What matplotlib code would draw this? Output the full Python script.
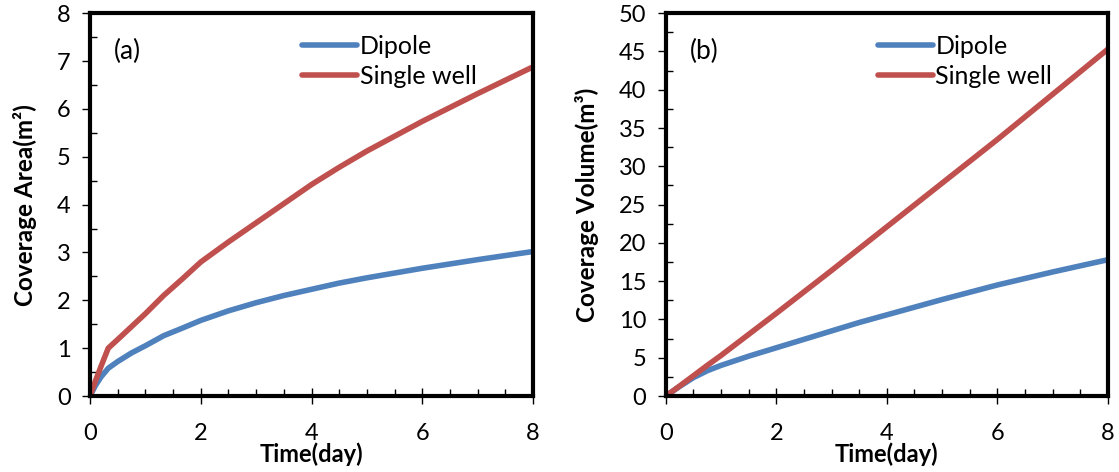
import matplotlib.pyplot as plt
from matplotlib.ticker import MultipleLocator

plt.rcParams['font.family'] = ['Lato', 'DejaVu Sans']

# panel (a): coverage area
t_area = [0, 0.1, 0.2, 0.33, 0.5, 0.75, 1, 1.33, 1.67, 2, 2.5, 3, 3.5, 4, 4.5, 5, 6, 7, 8]
dipole_area = [0, 0.22, 0.4, 0.58, 0.72, 0.9, 1.05, 1.26, 1.42, 1.58, 1.78, 1.95, 2.1, 2.23,
               2.36, 2.47, 2.67, 2.85, 3.02]
single_area = [0, 0.32, 0.62, 1.0, 1.18, 1.45, 1.72, 2.1, 2.45, 2.8, 3.22, 3.62, 4.02, 4.42,
               4.78, 5.12, 5.74, 6.32, 6.88]

# panel (b): coverage volume
t_vol = [0, 0.25, 0.5, 0.75, 1, 1.5, 2, 2.5, 3, 3.5, 4, 5, 6, 7, 8]
dipole_vol = [0, 1.25, 2.4, 3.3, 4.0, 5.2, 6.3, 7.4, 8.5, 9.6, 10.6, 12.6, 14.5, 16.2, 17.8]
single_vol = [0, 1.3, 2.65, 4.0, 5.3, 8.05, 10.8, 13.6, 16.4, 19.25, 22.1, 27.8, 33.5, 39.4, 45.3]

blue = '#4F81BD'
red = '#C0504D'

fig = plt.figure(figsize=(11.19, 4.72), dpi=100)
ax1 = fig.add_axes([0.0804, 0.161, 0.396, 0.811])
ax2 = fig.add_axes([0.595, 0.161, 0.395, 0.811])


def style(ax, ymax, ymajor, ylabel, tag):
    ax.set_xlim(0, 8)
    ax.set_ylim(0, ymax)
    ax.xaxis.set_major_locator(MultipleLocator(2))
    ax.xaxis.set_minor_locator(MultipleLocator(0.5))
    ax.yaxis.set_major_locator(MultipleLocator(ymajor))
    ax.yaxis.set_minor_locator(MultipleLocator(ymajor / 2))
    for s in ax.spines.values():
        s.set_linewidth(3)
    ax.tick_params(axis='y', which='major', direction='out', length=6, width=1, labelsize=17, pad=8)
    ax.tick_params(axis='y', which='minor', direction='in', length=5, width=1)
    ax.tick_params(axis='x', which='major', direction='inout', length=11, width=1, labelsize=17, pad=14)
    ax.tick_params(axis='x', which='minor', direction='in', length=5, width=1)
    ax.set_xlabel('Time(day)', fontsize=17, fontweight='bold', labelpad=-1)
    ax.set_ylabel(ylabel, fontsize=17.5, fontweight='bold', labelpad=14)
    ax.text(0.055, 0.9, tag, transform=ax.transAxes, fontsize=19, va='center')
    ax.legend(loc='upper left', bbox_to_anchor=(0.44, 0.99), frameon=False,
              fontsize=18, handlelength=2.2, handletextpad=0.1, labelspacing=0.3,
              borderpad=0.2)


ax1.plot(t_area, dipole_area, color=blue, lw=4, label='Dipole', solid_capstyle='round')
ax1.plot(t_area, single_area, color=red, lw=4, label='Single well', solid_capstyle='round')
style(ax1, 8, 1, 'Coverage Area(m\u00b2)', '(a)')

ax2.plot(t_vol, dipole_vol, color=blue, lw=4, label='Dipole', solid_capstyle='round')
ax2.plot(t_vol, single_vol, color=red, lw=4, label='Single well', solid_capstyle='round')
style(ax2, 50, 5, 'Coverage Volume(m\u00b3)', '(b)')

fig.savefig('out.png', dpi=100)
